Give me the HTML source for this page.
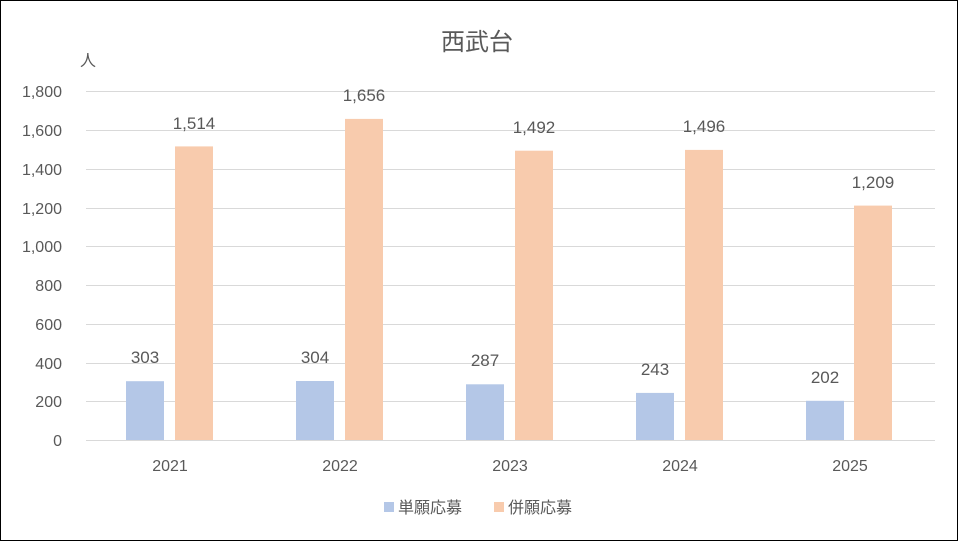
<!DOCTYPE html>
<html><head><meta charset="utf-8"><style>
body{margin:0;background:#fff}
svg text{font-family:"Liberation Sans","Noto Sans CJK JP",sans-serif;fill:#595959}
</style></head><body>
<svg width="958" height="541" xmlns="http://www.w3.org/2000/svg">
<rect x="0.5" y="0.5" width="957" height="540" fill="#fff" stroke="#000" stroke-width="1"/>
<text x="477" y="50" font-size="24" text-anchor="middle">西武台</text>
<text x="80" y="66" font-size="16">人</text>
<g stroke="#d9d9d9" stroke-width="1">
<line x1="86" x2="935" y1="91.5" y2="91.5"/><line x1="86" x2="935" y1="130.5" y2="130.5"/>
<line x1="86" x2="935" y1="169.5" y2="169.5"/><line x1="86" x2="935" y1="208.5" y2="208.5"/>
<line x1="86" x2="935" y1="246.5" y2="246.5"/><line x1="86" x2="935" y1="285.5" y2="285.5"/>
<line x1="86" x2="935" y1="324.5" y2="324.5"/><line x1="86" x2="935" y1="363.5" y2="363.5"/>
<line x1="86" x2="935" y1="401.5" y2="401.5"/><line x1="86" x2="935" y1="440.5" y2="440.5"/>
</g>
<g font-size="16" text-anchor="end">
<text x="62" y="97">1,800</text><text x="62" y="136">1,600</text><text x="62" y="175">1,400</text>
<text x="62" y="214">1,200</text><text x="62" y="252">1,000</text><text x="62" y="291">800</text>
<text x="62" y="330">600</text><text x="62" y="369">400</text><text x="62" y="407">200</text>
<text x="62" y="446">0</text>
</g>
<g fill="#b4c7e7">
<rect x="126" y="381.2" width="38" height="58.8"/><rect x="296" y="381" width="38" height="59"/>
<rect x="466" y="384.3" width="38" height="55.7"/><rect x="636" y="392.9" width="38" height="47.1"/>
<rect x="806" y="400.8" width="38" height="39.2"/>
</g>
<g fill="#f8cbad">
<rect x="175" y="146.4" width="38" height="293.6"/><rect x="345" y="118.9" width="38" height="321.1"/>
<rect x="515" y="150.7" width="38" height="289.3"/><rect x="685" y="149.9" width="38" height="290.1"/>
<rect x="854" y="205.6" width="38" height="234.4"/>
</g>
<g font-size="17" text-anchor="middle">
<text x="145" y="363">303</text><text x="315" y="363">304</text><text x="485" y="366">287</text>
<text x="655" y="375">243</text><text x="825" y="383">202</text>
<text x="194" y="129">1,514</text><text x="364" y="101">1,656</text><text x="534" y="133">1,492</text>
<text x="704" y="132">1,496</text><text x="873" y="188">1,209</text>
</g>
<g font-size="16" text-anchor="middle">
<text x="170" y="471">2021</text><text x="340" y="471">2022</text><text x="510" y="471">2023</text>
<text x="680" y="471">2024</text><text x="850" y="471">2025</text>
</g>
<rect x="384" y="502" width="10" height="10" fill="#b4c7e7"/>
<text x="398" y="513" font-size="16">単願応募</text>
<rect x="494" y="502" width="10" height="10" fill="#f8cbad"/>
<text x="508" y="513" font-size="16">併願応募</text>
</svg>
</body></html>
